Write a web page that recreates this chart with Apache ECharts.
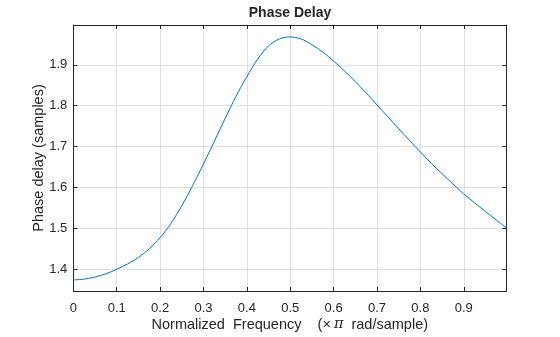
<!DOCTYPE html>
<html>
<head>
<meta charset="utf-8">
<script src="https://cdn.jsdelivr.net/npm/echarts@6/dist/echarts.min.js"></script>
<style>
html,body{margin:0;padding:0;background:#fff;}
#c{width:560px;height:337px;}
</style>
</head>
<body>
<div id="c"></div>
<script>
// Normalized frequency (x pi rad/sample)
var freq = [0, 0.025, 0.05, 0.075, 0.1, 0.125, 0.15, 0.175, 0.2, 0.225, 0.25, 0.275, 0.3, 0.325, 0.35, 0.375, 0.4, 0.425, 0.45, 0.475, 0.5, 0.525, 0.55, 0.575, 0.6, 0.625, 0.65, 0.675, 0.7, 0.725, 0.75, 0.775, 0.8, 0.825, 0.85, 0.875, 0.9, 0.925, 0.95, 0.975, 0.998];
// Phase delay (samples)
var delay = [1.375, 1.377, 1.382, 1.390, 1.401, 1.414, 1.430, 1.451, 1.478, 1.513, 1.556, 1.605, 1.658, 1.713, 1.769, 1.823, 1.871, 1.914, 1.946, 1.963, 1.968, 1.963, 1.949, 1.931, 1.909, 1.885, 1.859, 1.831, 1.802, 1.773, 1.744, 1.715, 1.687, 1.660, 1.634, 1.609, 1.585, 1.563, 1.542, 1.521, 1.502];
var xTicks = [0, 0.1, 0.2, 0.3, 0.4, 0.5, 0.6, 0.7, 0.8, 0.9];
var yTicks = [1.4, 1.5, 1.6, 1.7, 1.8, 1.9];

var X_MIN = 0, X_MAX = 0.998, Y_MIN = 1.348, Y_MAX = 1.997;
var ink = '#262626';
var gridCol = '#dfdfdf';
var font = '"Liberation Sans", Arial, Helvetica, sans-serif';

var pts = freq.map(function (f, i) { return [f, delay[i]]; });

function xAx(pos, main) {
  return {
    type: 'value', position: pos, min: X_MIN, max: X_MAX,
    axisLine: { show: true, onZero: false, lineStyle: { color: ink, width: 1 } },
    axisTick: { show: true, inside: true, length: 4, customValues: xTicks, lineStyle: { color: ink } },
    axisLabel: main ? { show: true, customValues: xTicks, color: ink, fontSize: 13, fontFamily: font, margin: 11 } : { show: false },
    splitLine: main ? { show: true, lineStyle: { color: gridCol, width: 1 } } : { show: false },
    name: main ? 'Normalized  Frequency    ({t|×}{p|π}  rad/sample)' : '',
    nameLocation: 'middle', nameGap: 26, nameMoveOverlap: false,
    nameTextStyle: { color: ink, fontSize: 14.5, fontFamily: font, verticalAlign: 'top',
      rich: { t: { fontSize: 14.5, fontFamily: font, color: ink }, p: { fontSize: 14.5, fontStyle: 'italic', fontFamily: '"DejaVu Serif", serif', color: ink, padding: [0, 0, 0, 3] } } }
  };
}
function yAx(pos, main) {
  return {
    type: 'value', position: pos, min: Y_MIN, max: Y_MAX,
    axisLine: { show: true, onZero: false, lineStyle: { color: ink, width: 1 } },
    axisTick: { show: true, inside: true, length: 4, customValues: yTicks, lineStyle: { color: ink } },
    axisLabel: main ? { show: true, customValues: yTicks, color: ink, fontSize: 13, fontFamily: font, margin: 6 } : { show: false },
    splitLine: main ? { show: true, lineStyle: { color: gridCol, width: 1 } } : { show: false },
    name: main ? 'Phase delay (samples)' : '',
    nameLocation: 'middle', nameGap: 27, nameRotate: 90, nameMoveOverlap: false,
    nameTextStyle: { color: ink, fontSize: 14.5, fontFamily: font }
  };
}

var chart = echarts.init(document.getElementById('c'), null, { renderer: 'canvas' });
chart.setOption({
  animation: false,
  backgroundColor: '#fff',
  title: {
    text: 'Phase Delay', left: 290, top: 6, padding: 0, textAlign: 'center',
    textStyle: { color: ink, fontSize: 14, fontWeight: 'bold', fontFamily: font }
  },
  grid: { left: 73.3, right: 53.7, top: 25, bottom: 41.7, containLabel: false },
  xAxis: [xAx('bottom', true), xAx('top', false)],
  yAxis: [yAx('left', true), yAx('right', false)],
  series: [{
    type: 'line', data: pts, smooth: 0.3, showSymbol: false, symbol: 'none',
    lineStyle: { color: '#0072BD', width: 1 }, clip: true
  }]
});
</script>
</body>
</html>
